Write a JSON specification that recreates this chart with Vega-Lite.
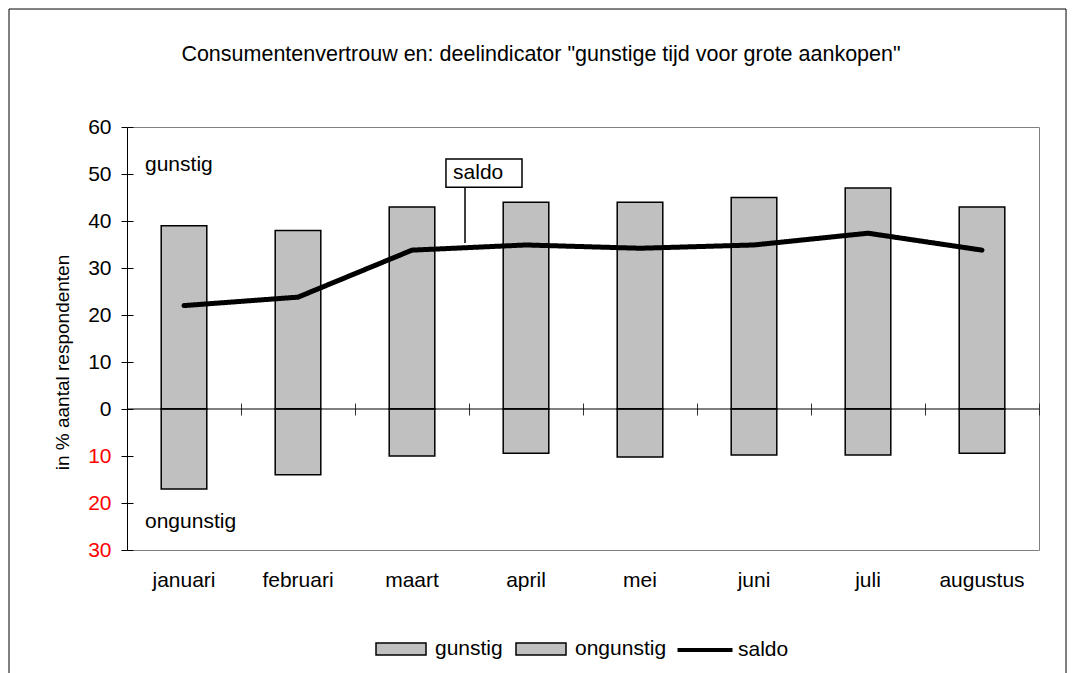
{
  "$schema": "https://vega.github.io/schema/vega-lite/v6.json",
  "width": 912,
  "height": 423,
  "autosize": {"type": "none"},
  "padding": {"left": 127, "top": 127, "right": 33, "bottom": 123},
  "background": "white",
  "title": {
    "text": "Consumentenvertrouw en: deelindicator \"gunstige tijd voor grote aankopen\"",
    "fontSize": 21.5,
    "fontWeight": "normal",
    "font": "Liberation Sans",
    "color": "black",
    "anchor": "middle",
    "dx": -42,
    "offset": -57
  },
  "config": {
    "font": "Liberation Sans",
    "view": {"stroke": "#808080", "strokeWidth": 1},
    "axis": {"grid": false, "labelFont": "Liberation Sans", "titleFont": "Liberation Sans", "titleColor": "black", "domainColor": "black", "tickColor": "black"}
  },
  "data": {
    "values": [
      {"maand": "januari", "reeks": "gunstig", "waarde": 39},
      {"maand": "februari", "reeks": "gunstig", "waarde": 38},
      {"maand": "maart", "reeks": "gunstig", "waarde": 43},
      {"maand": "april", "reeks": "gunstig", "waarde": 44},
      {"maand": "mei", "reeks": "gunstig", "waarde": 44},
      {"maand": "juni", "reeks": "gunstig", "waarde": 45},
      {"maand": "juli", "reeks": "gunstig", "waarde": 47},
      {"maand": "augustus", "reeks": "gunstig", "waarde": 43},
      {"maand": "januari", "reeks": "ongunstig", "waarde": -17},
      {"maand": "februari", "reeks": "ongunstig", "waarde": -14},
      {"maand": "maart", "reeks": "ongunstig", "waarde": -10},
      {"maand": "april", "reeks": "ongunstig", "waarde": -9.4},
      {"maand": "mei", "reeks": "ongunstig", "waarde": -10.2},
      {"maand": "juni", "reeks": "ongunstig", "waarde": -9.8},
      {"maand": "juli", "reeks": "ongunstig", "waarde": -9.8},
      {"maand": "augustus", "reeks": "ongunstig", "waarde": -9.4},
      {"maand": "januari", "reeks": "saldo", "waarde": 22},
      {"maand": "februari", "reeks": "saldo", "waarde": 23.8},
      {"maand": "maart", "reeks": "saldo", "waarde": 33.8},
      {"maand": "april", "reeks": "saldo", "waarde": 34.9},
      {"maand": "mei", "reeks": "saldo", "waarde": 34.2},
      {"maand": "juni", "reeks": "saldo", "waarde": 34.9},
      {"maand": "juli", "reeks": "saldo", "waarde": 37.4},
      {"maand": "augustus", "reeks": "saldo", "waarde": 33.8}
    ]
  },
  "layer": [
    {
      "data": {"values": [{}]},
      "mark": {"type": "rect", "fill": "transparent", "stroke": "black", "strokeWidth": 1},
      "encoding": {
        "x": {"datum": "januari", "type": "nominal", "bandPosition": -1.035, "axis": null},
        "x2": {"datum": "augustus", "bandPosition": 1.237},
        "y": {"datum": 85.1, "type": "quantitative", "axis": null},
        "y2": {"datum": -60}
      }
    },
    {
      "transform": [{"filter": "datum.reeks !== 'saldo'"}],
      "mark": {"type": "bar", "width": {"band": 0.4}, "stroke": "black", "strokeWidth": 1.5},
      "encoding": {
        "x": {
          "field": "maand", "type": "nominal",
          "scale": {"domain": ["januari", "februari", "maart", "april", "mei", "juni", "juli", "augustus"], "paddingInner": 0, "paddingOuter": 0},
          "axis": {"orient": "bottom", "domain": false, "ticks": false, "labelPadding": 19, "labelFontSize": 21, "labelColor": "black", "labelAngle": 0, "title": null}
        },
        "y": {
          "field": "waarde", "type": "quantitative",
          "scale": {"domain": [-30, 60], "nice": false},
          "axis": {
            "orient": "left",
            "values": [0, 10, 20, 30, 40, 50, 60],
            "labelFontSize": 21,
            "labelColor": "black",
            "labelPadding": 10,
            "tickSize": 6,
            "title": "in % aantal respondenten",
            "titleColor": "#000000",
            "titleFontSize": 19,
            "titleFontWeight": "normal",
            "titlePadding": 15,
            "titleY": 235
          }
        },
        "color": {
          "field": "reeks", "type": "nominal",
          "scale": {"domain": ["gunstig", "ongunstig"], "range": ["#c0c0c0", "#c0c0c0"]},
          "legend": {
            "title": null,
            "orient": "none",
            "direction": "horizontal",
            "legendX": 248,
            "legendY": 496,
            "symbolType": "M-1,-0.24H1V0.24H-1Z",
            "symbolSize": 2500,
            "symbolStrokeColor": "black",
            "symbolStrokeWidth": 1.5,
            "symbolOpacity": 1,
            "labelFontSize": 21,
            "labelColor": "black",
            "labelOffset": 8,
            "columnPadding": 10
          }
        }
      }
    },
    {
      "data": {"values": [{}]},
      "mark": {"type": "rule", "color": "black", "strokeWidth": 1},
      "encoding": {
        "y": {
          "datum": 0, "type": "quantitative",
          "axis": {
            "orient": "left",
            "values": [-30, -20, -10],
            "labelExpr": "'' + abs(datum.value)",
            "labelFontSize": 21,
            "labelColor": "#ff0000",
            "labelPadding": 10,
            "tickSize": 6,
            "domain": false,
            "title": null
          }
        }
      }
    },
    {
      "transform": [{"filter": "datum.reeks === 'saldo'"}],
      "mark": {"type": "line", "color": "black", "strokeWidth": 5, "strokeCap": "round", "strokeJoin": "round"},
      "encoding": {
        "x": {
          "field": "maand", "type": "nominal",
          "axis": {"orient": "top", "offset": -288, "domain": false, "labels": false, "tickSize": 12, "tickBand": "extent", "tickColor": "#333333", "title": null}
        },
        "y": {
          "field": "waarde", "type": "quantitative",
          "axis": {"orient": "right", "offset": -912, "domain": false, "labels": false, "tickSize": 6, "values": [-30, -20, -10, 0, 10, 20, 30, 40, 50, 60], "title": null}
        },
        "strokeDash": {
          "field": "reeks", "type": "nominal",
          "scale": {"domain": ["saldo"], "range": [[1, 0]]},
          "legend": {
            "title": null,
            "orient": "none",
            "direction": "horizontal",
            "legendX": 551,
            "legendY": 496,
            "symbolType": "M-1.1,0H1.1",
            "symbolSize": 2500,
            "symbolStrokeColor": "black",
            "symbolStrokeWidth": 4,
            "symbolOpacity": 1,
            "labelFontSize": 21,
            "labelColor": "black",
            "labelOffset": 6
          }
        }
      }
    },
    {
      "data": {"values": [{}]},
      "mark": {"type": "text", "align": "left", "baseline": "middle", "fontSize": 21, "color": "black"},
      "encoding": {
        "x": {"datum": "januari", "type": "nominal", "bandPosition": 0.158, "axis": null},
        "y": {"datum": 52, "type": "quantitative", "axis": null},
        "text": {"value": "gunstig"}
      }
    },
    {
      "data": {"values": [{}]},
      "mark": {"type": "text", "align": "left", "baseline": "middle", "fontSize": 21, "color": "black"},
      "encoding": {
        "x": {"datum": "januari", "type": "nominal", "bandPosition": 0.158, "axis": null},
        "y": {"datum": -24, "type": "quantitative", "axis": null},
        "text": {"value": "ongunstig"}
      }
    },
    {
      "data": {"values": [{}]},
      "mark": {"type": "rect", "fill": "white", "stroke": "black", "strokeWidth": 1.5},
      "encoding": {
        "x": {"datum": "maart", "type": "nominal", "bandPosition": 0.798, "axis": null},
        "x2": {"datum": "april", "bandPosition": 0.465},
        "y": {"datum": 53.2, "type": "quantitative", "axis": null},
        "y2": {"datum": 47.2}
      }
    },
    {
      "data": {"values": [{}]},
      "mark": {"type": "text", "align": "left", "baseline": "middle", "fontSize": 21, "color": "black"},
      "encoding": {
        "x": {"datum": "maart", "type": "nominal", "bandPosition": 0.86, "axis": null},
        "y": {"datum": 50.2, "type": "quantitative", "axis": null},
        "text": {"value": "saldo"}
      }
    },
    {
      "data": {"values": [{}]},
      "mark": {"type": "rule", "color": "black", "strokeWidth": 1.5},
      "encoding": {
        "x": {"datum": "maart", "type": "nominal", "bandPosition": 0.965, "axis": null},
        "y": {"datum": 47.2, "type": "quantitative", "axis": null},
        "y2": {"datum": 35.3}
      }
    }
  ],
  "resolve": {"axis": {"x": "independent", "y": "independent"}}
}
